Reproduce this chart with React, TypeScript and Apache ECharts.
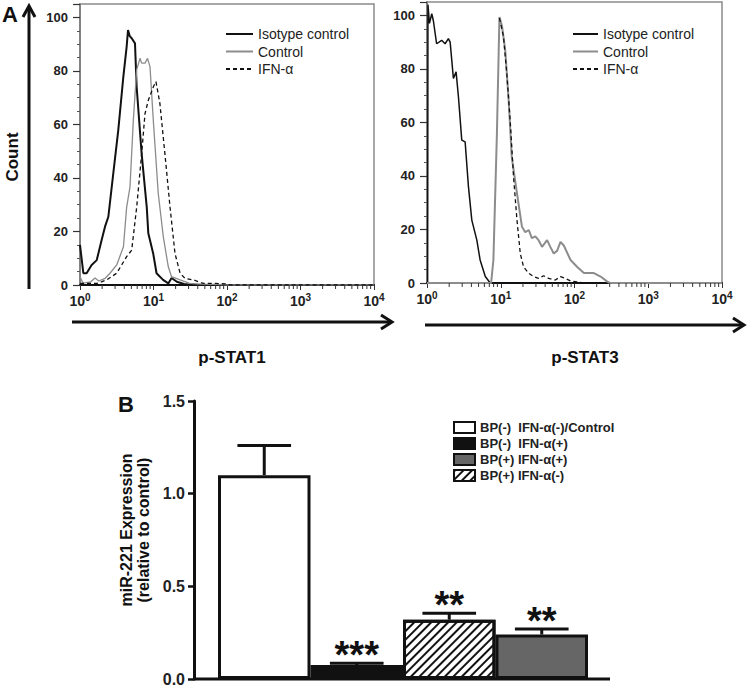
import React, { useEffect, useRef } from 'react';
import * as echarts from 'echarts';

const FONT = "'Liberation Sans', Arial, Helvetica, sans-serif";

// ---------- Panel A data ----------
const legendA = ['Isotype control', 'Control', 'IFN-α'];

// p-STAT1 (left) : [fluorescence, count]
const isoStat1 = [[1, 15], [1.11, 4.4], [1.23, 4.4], [1.44, 7.5], [1.69, 9.3], [1.97, 16.8], [2.19, 21.8], [2.43, 25.5], [2.84, 41.8], [3.32, 58], [3.89, 77.9], [4.31, 89], [4.5, 95.3], [4.75, 93], [5.05, 92.2], [5.6, 90.3], [5.9, 74], [6.9, 49], [8.1, 29], [8.5, 19.3], [9.9, 11.8], [11, 4.4], [13.5, 1.9], [15.9, 0.6], [17.6, 2.6], [20.8, 1.2], [26, 0.4], [35, 0], [10000, 0]];
const ctlStat1 = [[1, 3.1], [1.1, 0.7], [1.4, 1.2], [1.6, 2.6], [1.8, 1.5], [2.2, 2.5], [2.56, 4.4], [3.16, 7.5], [3.9, 14.3], [4.31, 29], [4.79, 36.7], [5.32, 61.7], [5.9, 80.4], [6.55, 84.7], [6.9, 82.9], [7.66, 82.9], [8.3, 84.7], [8.96, 81.6], [9.93, 61.7], [11.6, 34.3], [13.6, 18], [15.9, 6.8], [17.6, 3.1], [23, 1.9], [31, 0.6], [45, 0.3], [70, 0.2], [100, 0], [10000, 0]];
const ifnStat1 = [[1, 0.6], [1.7, 0.6], [2.3, 1.9], [3.16, 4.4], [4.31, 10.6], [5.05, 13], [5.9, 29], [6.9, 49], [7.66, 64], [8.5, 69], [9.93, 74], [10.8, 76], [12.2, 68], [14.3, 49], [16.8, 29], [19.6, 11.8], [23, 4.4], [26.8, 2.5], [35, 1.9], [47.6, 0.6], [70, 0.6], [95, 0.4], [110, 0], [10000, 0]];

// p-STAT3 (right)
const isoStat3 = [[1.02, 0], [1.03, 104], [1.08, 97], [1.16, 100.6], [1.22, 98], [1.35, 89.4], [1.58, 90.7], [1.76, 89.4], [1.95, 91.3], [2.06, 90], [2.28, 76.4], [2.48, 78.9], [2.67, 69.5], [2.96, 53.4], [3.29, 52.7], [3.65, 35.9], [4.05, 23.5], [4.74, 16], [5.25, 8.6], [6.17, 2.4], [7.2, 0], [10000, 0]];
const ctlStat3 = [[1, 0], [7.4, 0], [7.95, 8.6], [8.87, 55.8], [9.6, 99.4], [10.4, 96], [11.5, 87], [12.8, 68.3], [14.1, 47], [16.6, 33.5], [19.4, 21], [21.5, 19], [24, 19.8], [26.4, 16.8], [29.4, 17.4], [32.6, 16], [36.3, 13.5], [42.5, 16], [47, 13.5], [52.3, 11], [58, 12], [64.6, 15.4], [71.6, 14], [88.4, 8.6], [109, 6], [134, 3.7], [183, 3.7], [226, 2.4], [278, 0.5], [302, 0], [10000, 0]];
const ifnStat3 = [[9.6, 99], [10.9, 92], [12.1, 78], [13.5, 59.6], [14.9, 39.7], [16.6, 23.5], [18.4, 11], [20.4, 6], [24, 3.6], [28, 2.4], [32.6, 1.7], [38.2, 2.7], [44.7, 1.7], [55, 1.1], [64.6, 2.4], [75.5, 1.7], [88, 0.8], [109, 0.4], [130, 0]];

const logDecades = [1, 10, 100, 1000];
const logMultipliers = [2, 3, 4, 5, 6, 7, 8, 9];

// ---------- Panel B data ----------
const bCategories = ['BP(-)  IFN-α(-)/Control', 'BP(-)  IFN-α(+)', 'BP(+) IFN-α(-)', 'BP(+) IFN-α(+)'];
const bMeans = [1.1, 0.075, 0.32, 0.24];
const bErrTop = [1.26, 0.085, 0.355, 0.27];
const bStars = ['', '***', '**', '**'];
const bLegendOrder = [bCategories[0], bCategories[1], bCategories[3], bCategories[2]];

const hatch = {
  symbol: 'rect',
  symbolSize: 1,
  dashArrayX: [1, 0],
  dashArrayY: [2, 3.5],
  rotation: -Math.PI / 4,
  color: '#111',
  backgroundColor: '#fff',
};
const bStyles = [
  { color: '#fff' },
  { color: '#111' },
  { color: '#fff', decal: hatch },
  { color: '#666' },
];

export default function App() {
  const ref = useRef<HTMLDivElement>(null);
  useEffect(() => {
    document.body.style.margin = '0';
    const chart = echarts.init(ref.current!, null, { renderer: 'svg' });

    const minorTicks = logDecades.flatMap((d) => logMultipliers.map((m) => [d * m, 0]));

    const logXAxis = (gridIndex: number) => ({
      type: 'log',
      logBase: 10,
      gridIndex,
      min: 1,
      max: 10000,
      axisLine: { show: true, lineStyle: { color: '#111', width: 2 } },
      axisTick: { show: true, length: 5, lineStyle: { color: '#333', width: 1 } },
      minorTick: { show: false },
      splitLine: { show: false },
      axisLabel: {
        margin: 7,
        color: '#222',
        fontSize: 14,
        fontWeight: 'bold',
        fontFamily: FONT,
        formatter: (v: number) => `{b|10}{s|${Math.round(Math.log10(v))}}`,
        rich: {
          b: { fontSize: 14, fontWeight: 'bold', fontFamily: FONT, color: '#222' },
          s: { fontSize: 10, fontWeight: 'bold', fontFamily: FONT, color: '#222', padding: [0, 0, 8, 0] },
        },
      },
    });
    const countYAxis = (gridIndex: number) => ({
      type: 'value',
      gridIndex,
      min: 0,
      max: 105,
      interval: 20,
      axisLine: { show: true, lineStyle: { color: '#777', width: 1.5 } },
      axisTick: { show: true, length: 7, lineStyle: { color: '#333', width: 1.2 } },
      minorTick: { show: true, splitNumber: 4, length: 3, lineStyle: { color: '#555', width: 1 } },
      splitLine: { show: false },
      axisLabel: { showMaxLabel: false, margin: 12, fontSize: 13, fontWeight: 'bold', fontFamily: FONT, color: '#222' },
    });
    const tickSeries = (idx: number) => ({
      type: 'custom',
      xAxisIndex: idx,
      yAxisIndex: idx,
      data: minorTicks,
      silent: true,
      clip: false,
      z: 5,
      renderItem: (params: any, api: any) => {
        const p = api.coord([api.value(0), 0]);
        return { type: 'line', shape: { x1: p[0], y1: p[1], x2: p[0], y2: p[1] + 4 }, style: { stroke: '#333', lineWidth: 1 } };
      },
    });
    const lineSeries = (name: string, data: number[][], idx: number, color: string, width: number, dashed = false) => ({
      name,
      type: 'line',
      xAxisIndex: idx,
      yAxisIndex: idx,
      data,
      symbol: 'none',
      showSymbol: false,
      itemStyle: { color },
      lineStyle: { color, width, type: dashed ? [4, 3] : 'solid' },
      z: dashed ? 4 : 3,
    });
    const legendABase = {
      data: legendA, orient: 'vertical', top: 22, itemHeight: 14, itemGap: 3.5,
      itemStyle: { opacity: 0 },
      textStyle: { fontSize: 14, fontFamily: FONT, color: '#222' }, selectedMode: false,
    };

    const option: any = {
      animation: false,
      textStyle: { fontFamily: FONT },
      grid: [
        { left: 80, top: 4, width: 294, height: 281, show: true, borderColor: '#8a8a8a', borderWidth: 1.5, backgroundColor: 'transparent', outerBoundsMode: 'none' },
        { left: 427, top: 2, width: 295, height: 281, show: true, borderColor: '#8a8a8a', borderWidth: 1.5, backgroundColor: 'transparent', outerBoundsMode: 'none' },
        { left: 218, top: 401, width: 370, height: 278, outerBoundsMode: 'none' },
      ],
      xAxis: [
        logXAxis(0),
        logXAxis(1),
        {
          type: 'category',
          gridIndex: 2,
          data: bCategories,
          axisLine: { show: false },
          axisTick: { show: false },
          axisLabel: { show: false },
        },
      ],
      yAxis: [
        countYAxis(0),
        countYAxis(1),
        {
          type: 'value',
          gridIndex: 2,
          min: 0,
          max: 1.5,
          interval: 0.5,
          offset: 24,
          axisLine: { show: true, lineStyle: { color: '#111', width: 3 } },
          axisTick: { show: true, length: 6, lineStyle: { color: '#111', width: 2.5 } },
          splitLine: { show: false },
          axisLabel: { margin: 9, fontSize: 16, fontWeight: 'bold', fontFamily: FONT, color: '#222', formatter: (v: number) => v.toFixed(1) },
        },
      ],
      legend: [
        { ...legendABase, left: 220, itemWidth: 27 },
        { ...legendABase, left: 567, itemWidth: 25 },
        {
          data: bLegendOrder, orient: 'vertical', left: 448, top: 416, itemWidth: 21, itemHeight: 11, itemGap: 3,
          icon: 'rect', textStyle: { fontSize: 13, fontWeight: 'bold', fontFamily: FONT, color: '#222' }, selectedMode: false,
        },
      ],
      series: [
        lineSeries(legendA[0], isoStat1, 0, '#111', 2),
        lineSeries(legendA[1], ctlStat1, 0, '#8c8c8c', 1.3),
        lineSeries(legendA[2], ifnStat1, 0, '#111', 1.3, true),
        lineSeries(legendA[0], isoStat3, 1, '#111', 1.5),
        lineSeries(legendA[1], ctlStat3, 1, '#8c8c8c', 2),
        lineSeries(legendA[2], ifnStat3, 1, '#111', 1.3, true),
        tickSeries(0),
        tickSeries(1),
        ...bCategories.map((name, i) => ({
          name,
          type: 'bar',
          xAxisIndex: 2,
          yAxisIndex: 2,
          barGap: '-100%',
          barCategoryGap: '0%',
          data: bMeans.map((v, j) => (j === i ? v : '-')),
          itemStyle: { ...bStyles[i], borderColor: '#111', borderWidth: 3 },
        })),
        {
          type: 'custom',
          xAxisIndex: 2,
          yAxisIndex: 2,
          data: bMeans.map((m, i) => [i, m, bErrTop[i]]),
          encode: { x: 0, y: [1, 2] },
          z: 6,
          clip: false,
          silent: true,
          renderItem: (params: any, api: any) => {
            const i = api.value(0);
            const base = api.coord([i, api.value(1)]);
            const top = api.coord([i, api.value(2)]);
            const w = api.size([1, 0])[0];
            const half = w * 0.29;
            const children: any[] = [
              { type: 'line', shape: { x1: top[0], y1: base[1], x2: top[0], y2: top[1] }, style: { stroke: '#111', lineWidth: 3 } },
              { type: 'line', shape: { x1: top[0] - half, y1: top[1], x2: top[0] + half, y2: top[1] }, style: { stroke: '#111', lineWidth: 3 } },
            ];
            const s = bStars[params.dataIndex];
            if (s) {
              children.push({
                type: 'text',
                x: top[0],
                y: top[1] - 8,
                style: { text: s, fontSize: 38, fontWeight: 'bold', fontFamily: FONT, fill: '#111', align: 'center', verticalAlign: 'middle' },
              });
            }
            return { type: 'group', children };
          },
        },
      ],
      graphic: [
        { type: 'text', left: 2, top: 3, style: { text: 'A', fontSize: 22, fontWeight: 'bold', fontFamily: FONT, fill: '#111' } },
        { type: 'line', shape: { x1: 29, y1: 289, x2: 29, y2: 7 }, style: { stroke: '#111', lineWidth: 3 } },
        { type: 'polyline', shape: { points: [[23, 17], [29, 6], [35, 17]] }, style: { stroke: '#111', lineWidth: 3, fill: null } },
        { type: 'text', x: 12, y: 157, rotation: Math.PI / 2, style: { text: 'Count', fontSize: 17, fontWeight: 'bold', fontFamily: FONT, fill: '#111', align: 'center', verticalAlign: 'middle' } },
        { type: 'line', shape: { x1: 72, y1: 322, x2: 391, y2: 322 }, style: { stroke: '#111', lineWidth: 3 } },
        { type: 'polyline', shape: { points: [[381, 315], [392, 322], [381, 329]] }, style: { stroke: '#111', lineWidth: 3, fill: null } },
        { type: 'line', shape: { x1: 425, y1: 325, x2: 743, y2: 325 }, style: { stroke: '#111', lineWidth: 3 } },
        { type: 'polyline', shape: { points: [[733, 318], [744, 325], [733, 332]] }, style: { stroke: '#111', lineWidth: 3, fill: null } },
        { type: 'text', x: 232, y: 357, style: { text: 'p-STAT1', fontSize: 17, fontWeight: 'bold', fontFamily: FONT, fill: '#111', align: 'center', verticalAlign: 'middle' } },
        { type: 'text', x: 585, y: 357, style: { text: 'p-STAT3', fontSize: 17, fontWeight: 'bold', fontFamily: FONT, fill: '#111', align: 'center', verticalAlign: 'middle' } },
        { type: 'text', left: 118, top: 393, style: { text: 'B', fontSize: 22, fontWeight: 'bold', fontFamily: FONT, fill: '#111' } },
        { type: 'text', x: 135, y: 530, rotation: Math.PI / 2, style: { text: 'miR-221 Expression\n(relative to control)', fontSize: 16, fontWeight: 'bold', fontFamily: FONT, fill: '#111', align: 'center', verticalAlign: 'middle', lineHeight: 17 } },
        { type: 'line', shape: { x1: 193, y1: 679, x2: 610, y2: 679 }, style: { stroke: '#111', lineWidth: 3 }, z: 10 },
      ],
    };
    chart.setOption(option);
    return () => chart.dispose();
  }, []);
  return <div ref={ref} style={{ position: 'absolute', left: 0, top: 0, width: 747, height: 686 }} />;
}
